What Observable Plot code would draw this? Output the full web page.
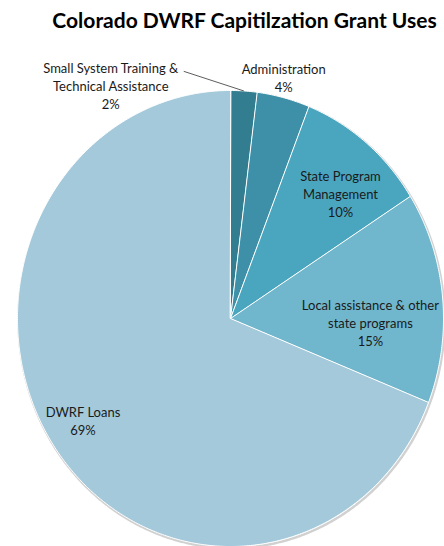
<!DOCTYPE html>
<html>
<head>
<meta charset="utf-8">
<script src="https://cdn.jsdelivr.net/npm/d3@7"></script>
<script src="https://cdn.jsdelivr.net/npm/@observablehq/plot@0.6"></script>
<style>
  html, body { margin: 0; padding: 0; background: #fff; }
  #chart svg { display: block; }
</style>
</head>
<body>
<div id="chart"></div>
<script>
// ---- data ----
const title = "Colorado DWRF Capitilzation Grant Uses";
const categories = [
  "Small System Training &\nTechnical Assistance",
  "Administration",
  "State Program\nManagement",
  "Local assistance & other\nstate programs",
  "DWRF Loans"
];
const values = [2, 4, 10, 15, 69];
const colors = ["#327e90", "#3d90a7", "#4aa6bf", "#70b7cd", "#a3c9da"];

// ---- layout (label placement in polar terms, pie radius = 1) ----
const labelAngleDeg = [-28.8, 13.3, 43.3, 91.5, 237.3];
const labelRadius = [1.167, 1.086, 0.753, 0.657, 0.823];

const pie = d3.pie().sort(null).value(d => d)(values);

const slices = pie.map((p, i) => {
  const pts = [{x: 0, y: 0}];
  const n = Math.max(4, Math.ceil((p.endAngle - p.startAngle) / (Math.PI / 360)));
  for (let k = 0; k <= n; k++) {
    const a = p.startAngle + (p.endAngle - p.startAngle) * k / n;
    pts.push({x: Math.sin(a), y: Math.cos(a)});
  }
  return pts;
});

const outline = d3.range(0, 721).map(k => {
  const a = k / 720 * 2 * Math.PI;
  return {x: Math.sin(a), y: Math.cos(a)};
});

const labels = categories.map((c, i) => {
  const a = labelAngleDeg[i] * Math.PI / 180;
  return {
    x: labelRadius[i] * Math.sin(a),
    y: labelRadius[i] * Math.cos(a),
    text: c + "\n" + values[i] + "%"
  };
});

// leader line for the smallest slice
const midSmall = (pie[0].startAngle + pie[0].endAngle) / 2;
const leader = [{
  x1: labels[0].x + 73 / 213, y1: labels[0].y + 14 / 228,
  x2: Math.sin(midSmall) * 1.0, y2: Math.cos(midSmall) * 1.0
}];

const font = "Lato, 'Open Sans', sans-serif";

const chart = Plot.plot({
  width: 444,
  height: 546,
  marginLeft: 17,
  marginRight: 1,
  marginTop: 90,
  marginBottom: 0,
  x: {domain: [-1, 1], axis: null},
  y: {domain: [-1, 1], axis: null},
  style: {fontFamily: font, background: "#fff", overflow: "visible"},
  marks: [
    // soft shadow around the pie
    Plot.line(outline, {x: "x", y: "y", stroke: "#9a9a9a", strokeWidth: 2.5, strokeOpacity: 0.45, dx: 1, dy: 1.5, curve: "linear-closed"}),
    ...slices.map((pts, i) =>
      Plot.line(pts, {x: "x", y: "y", fill: colors[i], stroke: "#ffffff", strokeWidth: 1, curve: "linear-closed", strokeLinejoin: "miter"})
    ),
    Plot.link(leader, {x1: "x1", y1: "y1", x2: "x2", y2: "y2", stroke: "#333", strokeWidth: 0.8}),
    Plot.text(labels, {x: "x", y: "y", text: "text", fontSize: 13, lineHeight: 1.38, fill: "#1a1a1a", textAnchor: "middle"}),
    Plot.text([title], {frameAnchor: "top", dx: 14, dy: -69, fontSize: 21, fontWeight: "bold", fill: "#000", textAnchor: "middle", lineAnchor: "middle"})
  ]
});

document.getElementById("chart").appendChild(chart);
</script>
</body>
</html>
